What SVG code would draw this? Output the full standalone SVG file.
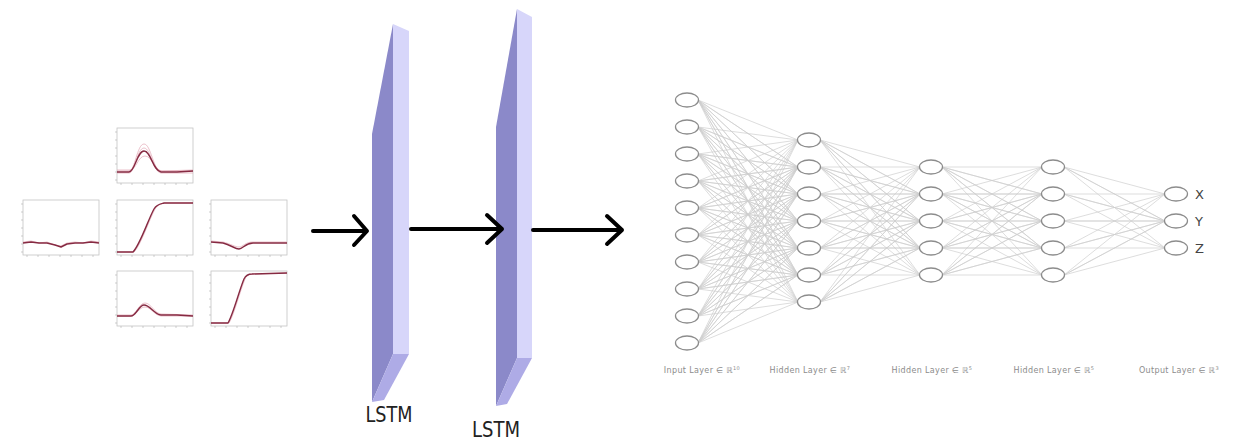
<svg xmlns="http://www.w3.org/2000/svg" xmlns:xlink="http://www.w3.org/1999/xlink" width="1253" height="440" viewBox="0 0 1253 440">
<style>
.bg{fill:#fff}
.pbox{fill:#fff;stroke:#c4c4c4;stroke-width:0.8}
.tick{stroke:#b0b0b0;stroke-width:0.6}
.dk{fill:none;stroke:#862a42;stroke-width:1.4;stroke-linejoin:round}
.pk{fill:none;stroke:#e2a6b4;stroke-width:0.7}
.conn{fill:none;stroke:#cfcfcf;stroke-width:0.7;stroke-linejoin:round}
.node{fill:#fff;stroke:#8c8c8c;stroke-width:1.3}
.arrow{fill:none;stroke:#000;stroke-width:4;stroke-linecap:round;stroke-linejoin:round}
.lbl{font-family:"DejaVu Sans",sans-serif;font-size:8px;fill:#8c8c8c;letter-spacing:0.35px}
.sup{font-size:5px}
.xyz{font-family:"DejaVu Sans",sans-serif;font-size:13px;fill:#444}
.lstm{font-family:"DejaVu Sans",sans-serif;font-size:21px;fill:#222}
.side{fill:#8b89c9}
.front{fill:#d7d6fa}
.bottom{fill:#aeabe6}
</style>
<defs>
<g id="ticks">
<path class="tick" d="M-2 4H0M-2 12H0M-2 20H0M-2 28H0M-2 36H0M-2 44H0M-2 52H0M4 55V57M15 55V57M26 55V57M37 55V57M48 55V57M59 55V57M70 55V57"/>
</g>
</defs>
<rect class="bg" x="0" y="0" width="1253" height="440"/>

<g id="plots">
<g id="plot-top" transform="translate(117,128)">
<rect class="pbox" width="76" height="55"/><use xlink:href="#ticks"/>
<path class="pk" d="M0 43 L12 43 C18 43 20 16 27 16 C34 16 36 42 44 43 L76 43"/>
<path class="pk" d="M0 45 L12 45 C18 45 20 20 27 20 C34 20 36 44 44 45 L76 45"/>
<path class="pk" d="M0 42 L13 42 C19 42 21 28 28 28 C35 28 37 42 45 43 L76 42"/>
<path class="dk" d="M0 44 L12 44 C18 44 20 23 27 23 C34 23 36 43 44 44 L60 44 L76 43"/>
</g>
<g id="plot-left" transform="translate(23,200)">
<rect class="pbox" width="76" height="55"/><use xlink:href="#ticks"/>
<path class="pk" d="M0 42 L8 41 L16 43 L24 42 L32 45 L38 46 L44 43 L52 42 L60 43 L68 41 L76 42"/>
<path class="dk" d="M0 43 L8 42 L16 43 L24 43 L32 45 L38 47 L44 44 L52 43 L60 43 L68 42 L76 43"/>
</g>
<g id="plot-center" transform="translate(117,200)">
<rect class="pbox" width="76" height="55"/><use xlink:href="#ticks"/>
<path class="pk" d="M0 52 L17 52 C24 45 32 20 38 9 C41 4 44 4 48 3 L76 3"/>
<path class="dk" d="M0 52 L16 52 C23 45 31 20 37 9 C40 4 43 4 47 3 L76 3"/>
</g>
<g id="plot-right" transform="translate(211,200)">
<rect class="pbox" width="76" height="55"/><use xlink:href="#ticks"/>
<path class="pk" d="M0 41 L12 42 C20 44 24 47 28 47 C32 47 34 42 42 42 L76 42"/>
<path class="dk" d="M0 42 L12 43 C20 45 24 49 28 49 C32 49 34 43 42 43 L60 43 L76 43"/>
</g>
<g id="plot-bottom" transform="translate(117,271)">
<rect class="pbox" width="76" height="55"/><use xlink:href="#ticks"/>
<path class="pk" d="M0 44 L14 44 C19 44 22 32 28 32 C34 32 37 42 44 43 L76 44"/>
<path class="pk" d="M0 45 L14 45 C19 45 22 36 28 36 C34 36 37 44 44 45 L76 45"/>
<path class="dk" d="M0 45 L14 45 C19 45 22 34 27 34 C33 34 37 43 44 44 L60 44 L76 45"/>
</g>
<g id="plot-bottomright" transform="translate(211,271)">
<rect class="pbox" width="76" height="55"/><use xlink:href="#ticks"/>
<path class="pk" d="M0 52 L18 52 C23 44 29 20 34 8 C36 4 38 3 42 3 L76 2"/>
<path class="dk" d="M0 52 L17 52 C22 44 28 20 33 8 C35 4 37 3 41 3 L76 2"/>
</g>
</g>

<g id="lstm1">
<polygon class="side" points="372,134 393,24 393,354 372,402"/>
<polygon class="front" points="393,24 409,31 409,354 393,354"/>
<polygon class="bottom" points="393,354 409,354 384,400 372,402"/>
<text class="lstm" x="389" y="422" text-anchor="middle" textLength="47" lengthAdjust="spacingAndGlyphs">LSTM</text>
</g>
<g id="lstm2">
<polygon class="side" points="496,127 517,9 517,358 496,406"/>
<polygon class="front" points="517,9 532,17 532,358 517,358"/>
<polygon class="bottom" points="517,358 532,358 507,404 496,406"/>
<text class="lstm" x="496" y="437" text-anchor="middle" textLength="48" lengthAdjust="spacingAndGlyphs">LSTM</text>
</g>

<g id="arrows">
<path class="arrow" d="M313 231H366M354 216L367 231L354 245"/>
<path class="arrow" d="M411 229H502M487 215L502 229L487 243"/>
<path class="arrow" d="M533 230H622M607 216L622 230L607 244"/>
</g>

<g id="connectors">
<polyline class="conn" points="798,140 698,100 798,167 698,100 798,194 698,100 798,221 698,100 798,248 698,100 798,275 698,100 798,302"/>
<polyline class="conn" points="798,140 698,127 798,167 698,127 798,194 698,127 798,221 698,127 798,248 698,127 798,275 698,127 798,302"/>
<polyline class="conn" points="798,140 698,154 798,167 698,154 798,194 698,154 798,221 698,154 798,248 698,154 798,275 698,154 798,302"/>
<polyline class="conn" points="798,140 698,181 798,167 698,181 798,194 698,181 798,221 698,181 798,248 698,181 798,275 698,181 798,302"/>
<polyline class="conn" points="798,140 698,208 798,167 698,208 798,194 698,208 798,221 698,208 798,248 698,208 798,275 698,208 798,302"/>
<polyline class="conn" points="798,140 698,235 798,167 698,235 798,194 698,235 798,221 698,235 798,248 698,235 798,275 698,235 798,302"/>
<polyline class="conn" points="798,140 698,262 798,167 698,262 798,194 698,262 798,221 698,262 798,248 698,262 798,275 698,262 798,302"/>
<polyline class="conn" points="798,140 698,289 798,167 698,289 798,194 698,289 798,221 698,289 798,248 698,289 798,275 698,289 798,302"/>
<polyline class="conn" points="798,140 698,316 798,167 698,316 798,194 698,316 798,221 698,316 798,248 698,316 798,275 698,316 798,302"/>
<polyline class="conn" points="798,140 698,343 798,167 698,343 798,194 698,343 798,221 698,343 798,248 698,343 798,275 698,343 798,302"/>

<polyline class="conn" points="920,167 820,140 920,194 820,140 920,221 820,140 920,248 820,140 920,275"/>
<polyline class="conn" points="920,167 820,167 920,194 820,167 920,221 820,167 920,248 820,167 920,275"/>
<polyline class="conn" points="920,167 820,194 920,194 820,194 920,221 820,194 920,248 820,194 920,275"/>
<polyline class="conn" points="920,167 820,221 920,194 820,221 920,221 820,221 920,248 820,221 920,275"/>
<polyline class="conn" points="920,167 820,248 920,194 820,248 920,221 820,248 920,248 820,248 920,275"/>
<polyline class="conn" points="920,167 820,275 920,194 820,275 920,221 820,275 920,248 820,275 920,275"/>
<polyline class="conn" points="920,167 820,302 920,194 820,302 920,221 820,302 920,248 820,302 920,275"/>

<polyline class="conn" points="1042,167 942,167 1042,194 942,167 1042,221 942,167 1042,248 942,167 1042,275"/>
<polyline class="conn" points="1042,167 942,194 1042,194 942,194 1042,221 942,194 1042,248 942,194 1042,275"/>
<polyline class="conn" points="1042,167 942,221 1042,194 942,221 1042,221 942,221 1042,248 942,221 1042,275"/>
<polyline class="conn" points="1042,167 942,248 1042,194 942,248 1042,221 942,248 1042,248 942,248 1042,275"/>
<polyline class="conn" points="1042,167 942,275 1042,194 942,275 1042,221 942,275 1042,248 942,275 1042,275"/>

<polyline class="conn" points="1165,194 1064,167 1165,221 1064,167 1165,248"/>
<polyline class="conn" points="1165,194 1064,194 1165,221 1064,194 1165,248"/>
<polyline class="conn" points="1165,194 1064,221 1165,221 1064,221 1165,248"/>
<polyline class="conn" points="1165,194 1064,248 1165,221 1064,248 1165,248"/>
<polyline class="conn" points="1165,194 1064,275 1165,221 1064,275 1165,248"/>
</g>

<g id="input-layer">
<ellipse class="node" cx="687" cy="100" rx="11.5" ry="7"/>
<ellipse class="node" cx="687" cy="127" rx="11.5" ry="7"/>
<ellipse class="node" cx="687" cy="154" rx="11.5" ry="7"/>
<ellipse class="node" cx="687" cy="181" rx="11.5" ry="7"/>
<ellipse class="node" cx="687" cy="208" rx="11.5" ry="7"/>
<ellipse class="node" cx="687" cy="235" rx="11.5" ry="7"/>
<ellipse class="node" cx="687" cy="262" rx="11.5" ry="7"/>
<ellipse class="node" cx="687" cy="289" rx="11.5" ry="7"/>
<ellipse class="node" cx="687" cy="316" rx="11.5" ry="7"/>
<ellipse class="node" cx="687" cy="343" rx="11.5" ry="7"/>
<text class="lbl" x="702" y="373" text-anchor="middle">Input Layer ∈ ℝ<tspan class="sup" dy="-3">10</tspan></text>
</g>
<g id="hidden-layer-1">
<ellipse class="node" cx="809" cy="140" rx="11.5" ry="7"/>
<ellipse class="node" cx="809" cy="167" rx="11.5" ry="7"/>
<ellipse class="node" cx="809" cy="194" rx="11.5" ry="7"/>
<ellipse class="node" cx="809" cy="221" rx="11.5" ry="7"/>
<ellipse class="node" cx="809" cy="248" rx="11.5" ry="7"/>
<ellipse class="node" cx="809" cy="275" rx="11.5" ry="7"/>
<ellipse class="node" cx="809" cy="302" rx="11.5" ry="7"/>
<text class="lbl" x="810" y="373" text-anchor="middle">Hidden Layer ∈ ℝ<tspan class="sup" dy="-3">7</tspan></text>
</g>
<g id="hidden-layer-2">
<ellipse class="node" cx="931" cy="167" rx="11.5" ry="7"/>
<ellipse class="node" cx="931" cy="194" rx="11.5" ry="7"/>
<ellipse class="node" cx="931" cy="221" rx="11.5" ry="7"/>
<ellipse class="node" cx="931" cy="248" rx="11.5" ry="7"/>
<ellipse class="node" cx="931" cy="275" rx="11.5" ry="7"/>
<text class="lbl" x="932" y="373" text-anchor="middle">Hidden Layer ∈ ℝ<tspan class="sup" dy="-3">5</tspan></text>
</g>
<g id="hidden-layer-3">
<ellipse class="node" cx="1053" cy="167" rx="11.5" ry="7"/>
<ellipse class="node" cx="1053" cy="194" rx="11.5" ry="7"/>
<ellipse class="node" cx="1053" cy="221" rx="11.5" ry="7"/>
<ellipse class="node" cx="1053" cy="248" rx="11.5" ry="7"/>
<ellipse class="node" cx="1053" cy="275" rx="11.5" ry="7"/>
<text class="lbl" x="1054" y="373" text-anchor="middle">Hidden Layer ∈ ℝ<tspan class="sup" dy="-3">5</tspan></text>
</g>
<g id="output-layer">
<ellipse class="node" cx="1176" cy="194" rx="11.5" ry="7"/>
<ellipse class="node" cx="1176" cy="221" rx="11.5" ry="7"/>
<ellipse class="node" cx="1176" cy="248" rx="11.5" ry="7"/>
<text class="xyz" x="1195" y="199">X</text>
<text class="xyz" x="1195" y="226">Y</text>
<text class="xyz" x="1195" y="253">Z</text>
<text class="lbl" x="1179" y="373" text-anchor="middle">Output Layer ∈ ℝ<tspan class="sup" dy="-3">3</tspan></text>
</g>
</svg>
